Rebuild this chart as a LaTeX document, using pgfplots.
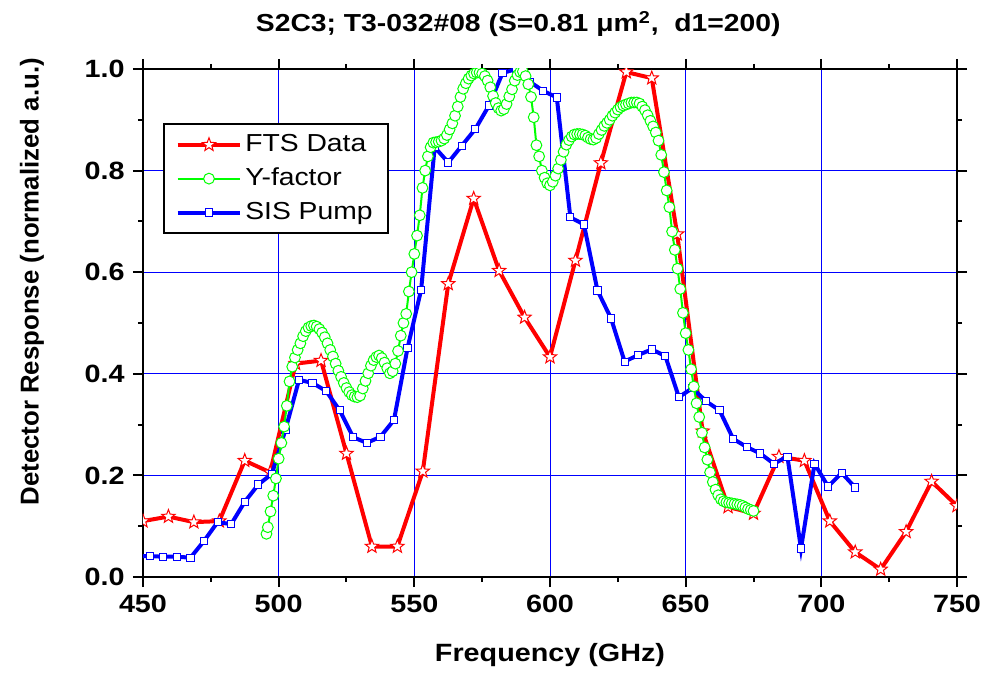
\documentclass[border=0pt]{standalone}
\usepackage{fontspec}
\setmainfont{Liberation Sans}[FakeStretch=1.15]
\newfontfamily\plainfont{Liberation Sans}
\usepackage{pgfplots}
\pgfplotsset{compat=1.18}

% hollow five-pointed star
\pgfdeclareplotmark{ostar}{%
  \pgfpathmoveto{\pgfpointpolar{90}{\pgfplotmarksize}}%
  \pgfpathlineto{\pgfpointpolar{126}{0.42\pgfplotmarksize}}%
  \pgfpathlineto{\pgfpointpolar{162}{\pgfplotmarksize}}%
  \pgfpathlineto{\pgfpointpolar{198}{0.42\pgfplotmarksize}}%
  \pgfpathlineto{\pgfpointpolar{234}{\pgfplotmarksize}}%
  \pgfpathlineto{\pgfpointpolar{270}{0.42\pgfplotmarksize}}%
  \pgfpathlineto{\pgfpointpolar{306}{\pgfplotmarksize}}%
  \pgfpathlineto{\pgfpointpolar{342}{0.42\pgfplotmarksize}}%
  \pgfpathlineto{\pgfpointpolar{18}{\pgfplotmarksize}}%
  \pgfpathlineto{\pgfpointpolar{54}{0.42\pgfplotmarksize}}%
  \pgfpathclose
  \pgfusepathqfillstroke
}

\pgfplotsset{
  fts/.style={red, line width=2pt, mark=ostar, mark size=3.5pt,
    mark options={solid, fill=white, draw=red, line width=0.5pt}},
  yfac/.style={green, line width=1pt, mark=*, mark size=2.7pt,
    mark options={solid, fill=white, draw=green, line width=0.5pt}},
  sis/.style={blue, line width=2pt, mark=square*, mark size=1.8pt,
    mark options={solid, fill=white, draw=blue, line width=0.5pt}},
}

\pgfplotstableread{
x y
450 0.110
459.375 0.119
468.75 0.108
478.125 0.110
487.5 0.229
496.875 0.206
506.25 0.420
515.625 0.426
525 0.243
534.375 0.060
543.75 0.060
553.125 0.208
562.5 0.577
571.875 0.745
581.25 0.603
590.625 0.511
600 0.433
609.375 0.623
618.75 0.815
628.125 0.994
637.5 0.982
646.875 0.675
656.25 0.287
665.625 0.138
675 0.125
684.375 0.237
693.75 0.229
703.125 0.110
712.5 0.049
721.875 0.015
731.25 0.089
740.625 0.188
750 0.140
}\ftsdata

\pgfplotstableread{
x y
447.5 0.041
452.5 0.041
457.5 0.040
462.5 0.040
467.5 0.038
472.5 0.071
477.5 0.108
482.5 0.104
487.5 0.148
492.5 0.182
497.5 0.203
502.5 0.290
507.5 0.388
512.5 0.382
517.5 0.366
522.5 0.328
527.5 0.275
532.5 0.264
537.5 0.276
542.5 0.309
547.5 0.451
552.5 0.565
557.5 0.846
562.5 0.816
567.5 0.849
572.5 0.882
577.5 0.928
582.5 0.992
587.5 1.000
592.5 0.975
597.5 0.957
602.5 0.944
607.5 0.708
612.5 0.694
617.5 0.564
622.5 0.509
627.5 0.424
632.5 0.437
637.5 0.448
642.5 0.435
647.5 0.354
652.5 0.372
657.5 0.346
662.5 0.328
667.5 0.272
672.5 0.256
677.5 0.243
682.5 0.223
687.5 0.237
692.5 0.056
697.5 0.223
702.5 0.178
707.5 0.205
712.5 0.176
}\sisdata

\pgfplotstableread{
x y
495.5 0.085
496 0.098
497 0.129
498 0.160
499 0.194
500 0.233
501 0.264
502 0.296
503 0.337
504 0.385
505 0.414
506 0.432
507 0.447
508 0.460
509 0.474
510 0.484
511 0.491
512 0.494
513 0.495
514 0.493
515 0.488
516 0.481
517 0.472
518 0.460
519 0.447
520 0.434
521 0.420
522 0.406
523 0.394
524 0.382
525 0.372
526 0.364
527 0.358
528 0.355
529 0.354
530 0.357
531 0.371
532 0.386
533 0.401
534 0.416
535 0.427
536 0.433
537 0.436
538 0.431
539 0.422
540 0.411
541 0.401
542 0.405
543 0.420
544 0.445
545 0.475
546 0.500
547 0.518
548 0.562
549 0.600
550 0.636
551 0.672
552 0.712
553 0.766
554 0.800
555 0.828
556 0.846
557 0.855
558 0.856
559 0.857
560 0.859
561 0.863
562 0.870
563 0.881
564 0.893
565 0.908
566 0.926
567 0.945
568 0.961
569 0.972
570 0.981
571 0.987
572 0.991
573 0.993
574 0.993
575 0.991
576 0.986
577 0.977
578 0.964
579 0.947
580 0.933
581 0.923
582 0.918
583 0.921
584 0.931
585 0.946
586 0.960
587 0.977
588 0.988
589 0.994
590 0.995
591 0.986
592 0.970
593 0.945
594 0.905
595 0.850
596 0.828
597 0.800
598 0.786
599 0.775
600 0.771
601 0.778
602 0.790
603 0.804
604 0.821
605 0.837
606 0.851
607 0.860
608 0.867
609 0.871
610 0.872
611 0.872
612 0.871
613 0.869
614 0.865
615 0.862
616 0.861
617 0.864
618 0.872
619 0.880
620 0.888
621 0.894
622 0.900
623 0.908
624 0.914
625 0.920
626 0.925
627 0.928
628 0.930
629 0.932
630 0.934
631 0.934
632 0.934
633 0.932
634 0.926
635 0.919
636 0.909
637 0.898
638 0.887
639 0.875
640 0.859
641 0.831
642 0.797
643 0.761
644 0.728
645 0.680
646 0.644
647 0.607
648 0.567
649 0.520
650 0.480
651 0.447
652 0.409
653 0.375
654 0.342
655 0.315
656 0.284
657 0.255
658 0.231
659 0.206
660 0.187
661 0.172
662 0.161
663 0.153
664 0.149
665 0.147
666 0.146
667 0.145
668 0.144
669 0.143
670 0.142
671 0.140
672 0.137
673 0.134
674 0.132
675 0.130
}\yfdata

\begin{document}
\fontsize{12}{14}\selectfont
\begin{tikzpicture}
\begin{axis}[
  at={(0,0)}, anchor=south west,
  scale only axis, width=407pt, height=254pt,
  xmin=450, xmax=750, ymin=0, ymax=1,
  xtick={450,500,550,600,650,700,750},
  ytick={0,0.2,0.4,0.6,0.8,1.0},
  minor x tick num=1, minor y tick num=1,
  tick pos=both, tick align=outside,
  major tick length=5pt, minor tick length=2.5pt,
  every tick/.style={black, line width=1pt},
  axis line style={black, line width=1.2pt},
  grid=major, major grid style={blue, line width=0.5pt},
  /pgf/number format/assume math mode=true,
  yticklabel style={/pgf/number format/fixed, /pgf/number format/fixed zerofill, /pgf/number format/precision=1},
  tick label style={font=\fontsize{12.5}{14}\selectfont\bfseries},
  label style={font=\fontsize{12.5}{15}\selectfont\bfseries},
  xlabel={Frequency (GHz)},
  ylabel={Detector Response (normalized a.u.)},
  xlabel style={at={(axis description cs:0.5,-0.1535)}, anchor=center},
  ylabel style={font=\plainfont\fontsize{12.9}{15}\selectfont\bfseries,
    at={(axis description cs:-0.1364,0.581)}, anchor=center},
  title={S2C3; T3-032\#08 (S=0.81 μm\textsuperscript{2},\ \ d1=200)},
  title style={font=\fontsize{12.3}{14}\selectfont\bfseries, at={(axis description cs:0.461,1.0649)}, anchor=center, yshift=0pt},
  clip marker paths=true,
  legend style={at={(axis description cs:0.0242,0.893)}, anchor=north west,
    draw=black, line width=1pt, fill=white,
    font=\fontsize{12.3}{14}\selectfont, inner xsep=6pt, inner ysep=3.5pt,
    nodes={inner sep=1.5pt}, row sep=3.4pt},
  legend cell align=left,
  legend image code/.code={\draw[mark repeat=2, mark phase=2, #1]
    plot coordinates {(0cm,0cm) (0.55cm,0cm) (1.1cm,0cm)};},
]
\addplot[fts, forget plot] table {\ftsdata};
\addplot[sis, forget plot] table {\sisdata};
\addplot[yfac, forget plot] table {\yfdata};
\addlegendimage{fts}
\addlegendentry{FTS Data}
\addlegendimage{yfac}
\addlegendentry{Y-factor}
\addlegendimage{sis}
\addlegendentry{SIS Pump}
\end{axis}
\pgfresetboundingbox
\path[use as bounding box] (-71.5pt,-49pt) rectangle (421pt,288.5pt);
\end{tikzpicture}
\end{document}
